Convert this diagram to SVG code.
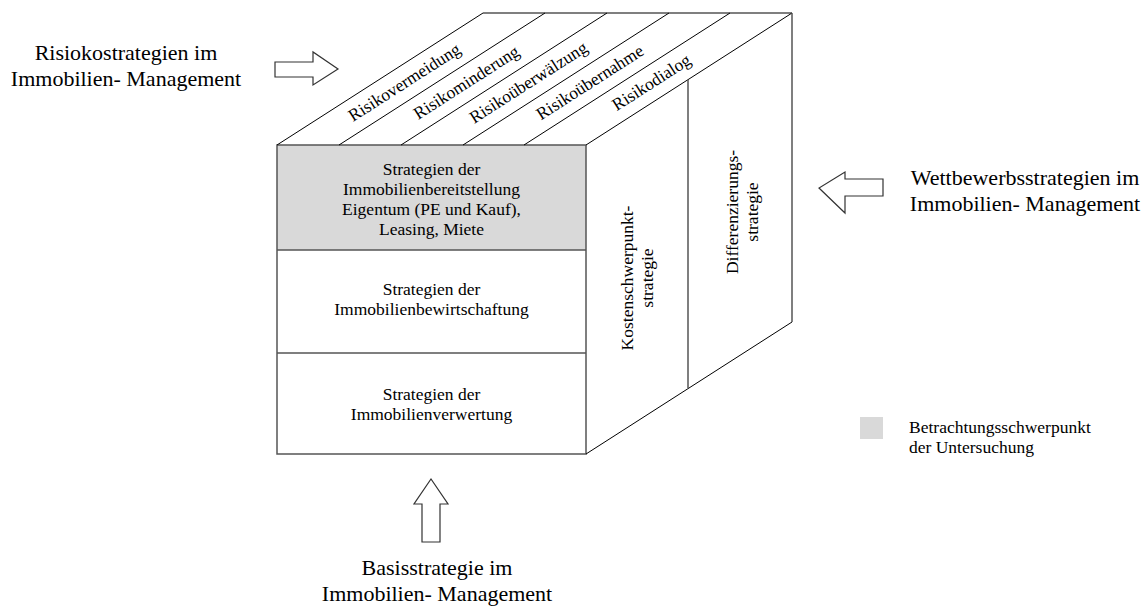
<svg xmlns="http://www.w3.org/2000/svg" width="1148" height="606" viewBox="0 0 1148 606">
  <style>
    text { font-family: 'Liberation Serif', 'DejaVu Serif', serif; fill: #000; }
    .big { font-size: 22px; }
    .mid { font-size: 17.5px; }
    .diag { stroke: #000; stroke-width: 1; fill: none; }
    .edge { stroke: #555; stroke-width: 1.5; fill: none; }
    .arrow { fill: #fff; stroke: #333; stroke-width: 1.2; }
  </style>
  <rect width="1148" height="606" fill="#fff"/>

  <!-- Cube: front face (basic strategies) -->
  <g id="front-face">
    <rect x="277" y="145" width="309" height="105" fill="#d9d9d9"/>
    <rect x="277" y="145" width="309" height="309" class="edge"/>
    <line x1="277" y1="250" x2="586" y2="250" class="edge"/>
    <line x1="277" y1="353" x2="586" y2="353" class="edge"/>
  </g>

  <g id="node-bereitstellung" font-family="Liberation Serif, serif">
    <text class="mid" text-anchor="middle" x="431.5" y="175">Strategien der</text>
    <text class="mid" text-anchor="middle" x="431.5" y="195">Immobilienbereitstellung</text>
    <text class="mid" text-anchor="middle" x="431.5" y="215">Eigentum (PE und Kauf),</text>
    <text class="mid" text-anchor="middle" x="431.5" y="235">Leasing, Miete</text>
  </g>
  <g id="node-bewirtschaftung">
    <text class="mid" text-anchor="middle" x="431.5" y="295">Strategien der</text>
    <text class="mid" text-anchor="middle" x="431.5" y="315">Immobilienbewirtschaftung</text>
  </g>
  <g id="node-verwertung">
    <text class="mid" text-anchor="middle" x="431.5" y="400">Strategien der</text>
    <text class="mid" text-anchor="middle" x="431.5" y="420">Immobilienverwertung</text>
  </g>

  <!-- Cube: top face (risk strategies) -->
  <g id="top-face">
    <line x1="483" y1="13" x2="792" y2="13" class="edge"/>
    <line x1="277" y1="145" x2="483" y2="13" class="diag"/>
    <line x1="339" y1="145" x2="545" y2="13" class="diag"/>
    <line x1="401" y1="145" x2="607" y2="13" class="diag"/>
    <line x1="463" y1="145" x2="669" y2="13" class="diag"/>
    <line x1="524" y1="145" x2="730" y2="13" class="diag"/>
    <line x1="586" y1="145" x2="792" y2="13" class="diag"/>
  </g>
  <g id="node-vermeidung"><text class="mid" text-anchor="middle" transform="translate(404.8,83) rotate(-32.65)" y="5">Risikovermeidung</text></g>
  <g id="node-minderung"><text class="mid" text-anchor="middle" transform="translate(466.8,83) rotate(-32.65)" y="5">Risikominderung</text></g>
  <g id="node-ueberwaelzung"><text class="mid" text-anchor="middle" transform="translate(528.8,83) rotate(-32.65)" y="5">Risikoüberwälzung</text></g>
  <g id="node-uebernahme"><text class="mid" text-anchor="middle" transform="translate(590.3,83) rotate(-32.65)" y="5">Risikoübernahme</text></g>
  <g id="node-dialog"><text class="mid" text-anchor="middle" transform="translate(651.8,83) rotate(-32.65)" y="5">Risikodialog</text></g>

  <!-- Cube: right face (competitive strategies) -->
  <g id="right-face">
    <line x1="586" y1="454" x2="792" y2="322" class="diag"/>
    <line x1="688" y1="80" x2="688" y2="388" class="edge"/>
    <line x1="792" y1="13" x2="792" y2="322" class="edge"/>
  </g>
  <g id="node-kosten">
    <text class="mid" text-anchor="middle" transform="translate(633,278) rotate(-90)">Kostenschwerpunkt-</text>
    <text class="mid" text-anchor="middle" transform="translate(653,278) rotate(-90)">strategie</text>
  </g>
  <g id="node-differenzierung">
    <text class="mid" text-anchor="middle" transform="translate(738,212) rotate(-90)">Differenzierungs-</text>
    <text class="mid" text-anchor="middle" transform="translate(758,212) rotate(-90)">strategie</text>
  </g>

  <!-- Dimension labels -->
  <g id="label-risiko">
    <text class="big" text-anchor="middle" x="126" y="60">Risiokostrategien im</text>
    <text class="big" text-anchor="middle" x="126" y="86">Immobilien- Management</text>
  </g>
  <g id="label-wettbewerb">
    <text class="big" text-anchor="middle" x="1025" y="185">Wettbewerbsstrategien im</text>
    <text class="big" text-anchor="middle" x="1025" y="211">Immobilien- Management</text>
  </g>
  <g id="label-basis">
    <text class="big" text-anchor="middle" x="437" y="575">Basisstrategie im</text>
    <text class="big" text-anchor="middle" x="437" y="601">Immobilien- Management</text>
  </g>

  <!-- Block arrows -->
  <g id="connectors">
    <polygon class="arrow" points="275,62 313,62 313,52 338,69 313,85 313,77 275,77"/>
    <polygon class="arrow" points="883,179 845,179 845,172 819,188 845,213 845,196 883,196"/>
    <polygon class="arrow" points="422,542 422,504 414,504 431,479 448,504 440,504 440,542"/>
  </g>

  <!-- Legend -->
  <g id="legend">
    <rect x="860" y="417" width="23" height="22" fill="#d9d9d9"/>
    <text class="mid" x="909" y="433">Betrachtungsschwerpunkt</text>
    <text class="mid" x="909" y="453">der Untersuchung</text>
  </g>
</svg>
